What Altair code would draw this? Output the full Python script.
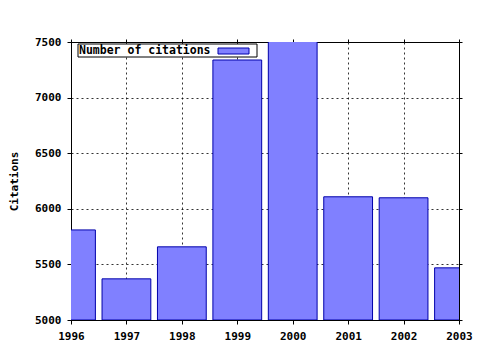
import altair as alt
import pandas as pd

years = [1996, 1997, 1998, 1999, 2000, 2001, 2002, 2003]
citations = [5810, 5370, 5658, 7338, 7560, 6108, 6099, 5469]
series_name = "Number of citations"
x_ticks = [1996, 1997, 1998, 1999, 2000, 2001, 2002, 2003]
y_ticks = [5000, 5500, 6000, 6500, 7000, 7500]

half = 0.44
df = pd.DataFrame({
    "year": years,
    "citations": citations,
    "x0": [y - half for y in years],
    "x1": [y + half for y in years],
    "base": [5000] * len(years),
})

FONT = "DejaVu Sans Mono"
xs = alt.Scale(domain=[1996, 2003], nice=False, zero=False)
ys = alt.Scale(domain=[5000, 7500], nice=False, zero=False)

bars = alt.Chart(df).mark_bar(
    fill="#8080ff", stroke="#0000aa", strokeWidth=1, clip=True
).encode(
    x=alt.X("x0:Q", scale=xs, axis=alt.Axis(
        orient="bottom", values=x_ticks, format="d", title=None,
        grid=True, gridDash=[2, 3], gridColor="#000", gridOpacity=0.8,
        labelFont=FONT, labelFontSize=11, labelFontWeight="bold", labelColor="#000",
        labelPadding=6, tickSize=4, tickColor="#000", domainColor="#000",
        labelFlush=False, labelOverlap=False)),
    x2="x1:Q",
    y=alt.Y("citations:Q", scale=ys, axis=alt.Axis(
        orient="left", values=y_ticks, format="d", title="Citations",
        grid=True, gridDash=[2, 3], gridColor="#000", gridOpacity=0.8,
        labelFont=FONT, labelFontSize=11, labelFontWeight="bold", labelColor="#000",
        labelPadding=6, tickSize=4, tickColor="#000", domainColor="#000",
        titleFont=FONT, titleFontSize=11, titleFontWeight="bold", titleColor="#000",
        titlePadding=15, labelFlush=False, labelOverlap=False)),
    y2="base:Q",
)

frame = alt.Chart(df).mark_point(opacity=0).encode(
    x=alt.X("year:Q", scale=xs, axis=alt.Axis(
        orient="top", values=x_ticks, labels=False, title=None, grid=False,
        tickSize=3, tickColor="#000", domainColor="#000")),
    y=alt.Y("citations:Q", scale=ys, axis=alt.Axis(
        orient="right", values=y_ticks, labels=False, title=None, grid=False,
        tickSize=3, tickColor="#000", domainColor="#000")),
)

leg_df = pd.DataFrame({"label": [series_name]})
leg_box = alt.Chart(leg_df).mark_rect(fill="white", stroke="#000", strokeWidth=1).encode(
    x=alt.value(7), x2=alt.value(186), y=alt.value(2), y2=alt.value(15))
leg_swatch = alt.Chart(leg_df).mark_rect(fill="#8080ff", stroke="#0000aa", strokeWidth=1).encode(
    x=alt.value(147), x2=alt.value(178), y=alt.value(6), y2=alt.value(12))
leg_text = alt.Chart(leg_df).mark_text(
    font=FONT, fontSize=11.5, fontWeight="bold", color="#000",
    align="left", baseline="middle").encode(
    x=alt.value(8), y=alt.value(9), text="label:N")

chart = alt.layer(bars, frame, leg_box, leg_swatch, leg_text).resolve_scale(
    x="independent", y="independent"
).properties(
    width=388, height=278,
    autosize=alt.AutoSizeParams(type="none"),
    padding={"left": 71, "top": 42, "right": 21, "bottom": 30},
    background="white",
).configure_view(stroke="#000", strokeWidth=1)

chart.save("out.html", embed_options={"renderer": "svg", "actions": False})
